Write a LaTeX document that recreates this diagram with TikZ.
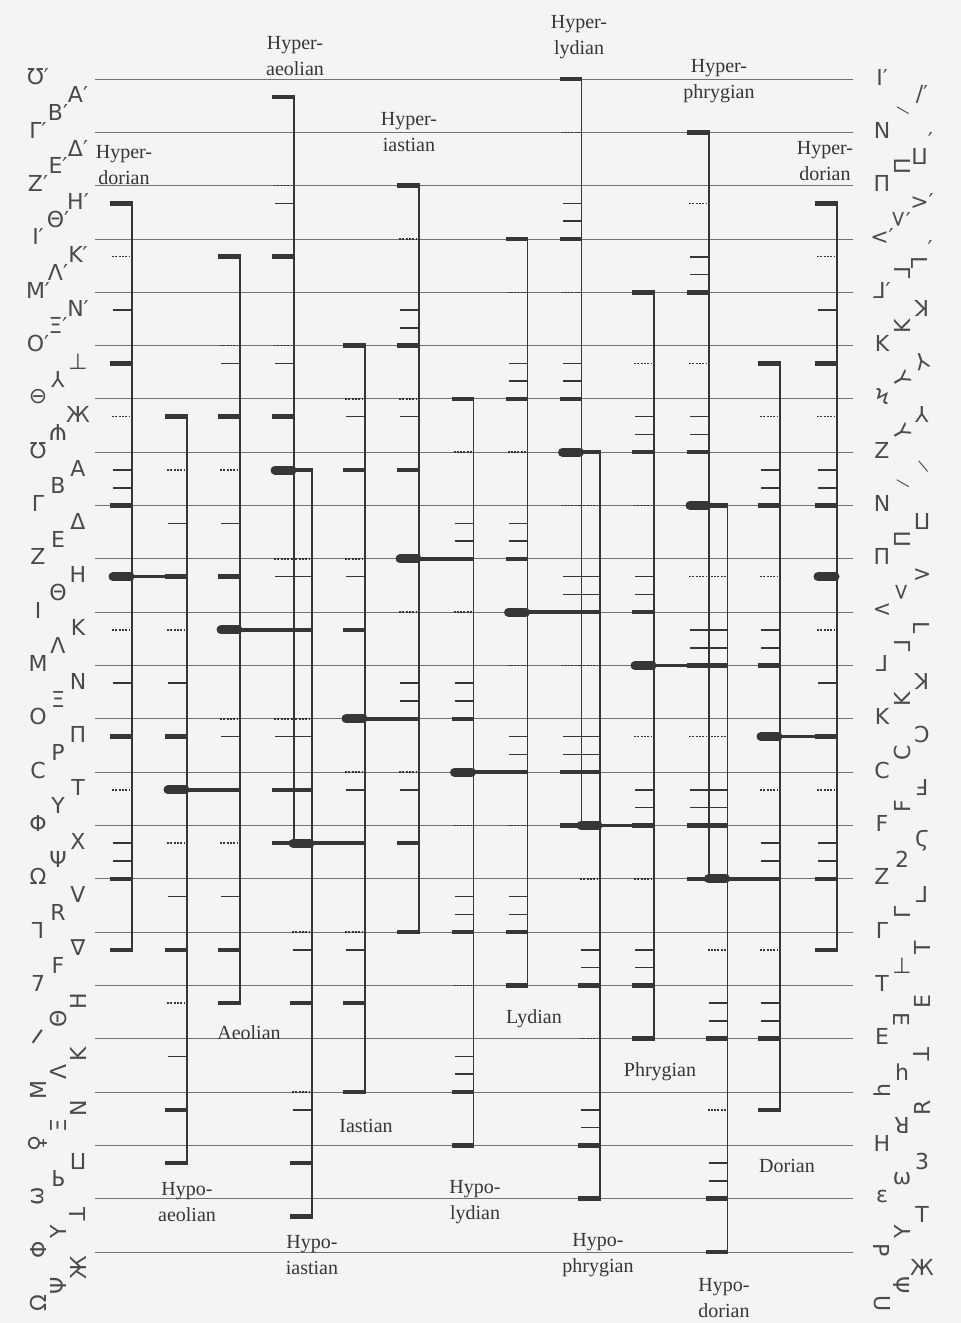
\documentclass[tikz,border=0pt]{standalone}
\usepackage{fontspec}
\setmainfont{Liberation Serif}
\newfontfamily\notefont{DejaVu Sans}
\usetikzlibrary{positioning}
\usepackage{xcolor}
\definecolor{ink}{HTML}{363636}
\definecolor{paper}{HTML}{F4F4F4}
% grid unit (one third of a staff interval) and pitch -> grid position
\def\gu{17.7727}
\def\Ptab{{0,1,3,6,7,9,10,12,15,16,18,19,21,22,24,27,28,30,31,33,36,37,39,40,42,43,45,48,49,51,52,54,57,58,60,61,63,64,66}}
\newcommand{\tonos}[3]{%
  \pgfmathtruncatemacro\ptop{\Ptab[#3]}
  \pgfmathtruncatemacro\ii{#3+24}\pgfmathtruncatemacro\pbot{\Ptab[\ii]}
  \pgfmathtruncatemacro\ii{#3+12}\pgfmathtruncatemacro\pmid{\Ptab[\ii]}
  \coordinate (#1-t) at (#2,{79+\gu*\ptop});
  \coordinate (#1-b) at (#2,{79+\gu*\pbot});
  \coordinate (#1-m) at (#2,{79+\gu*\pmid});
  \draw[stem] ([yshift=2pt]#1-t) -- ([yshift=-2pt]#1-b);
  \foreach \of in {0,5,10,17,22,24}{
    \pgfmathtruncatemacro\ii{#3+\of}\pgfmathtruncatemacro\pp{\Ptab[\ii]}
    \draw[fixbar] (#2-22,{79+\gu*\pp}) -- (#2+0.9,{79+\gu*\pp});
  }
  \foreach \of in {2,7,14,19}{
    \pgfmathtruncatemacro\ii{#3+\of}\pgfmathtruncatemacro\pp{\Ptab[\ii]}
    \draw[dotmark] (#2-20,{79+\gu*\pp}) -- (#2-2,{79+\gu*\pp});
  }
  \foreach \of in {5,10,17,22}{
    \pgfmathtruncatemacro\ii{#3+\of}\pgfmathtruncatemacro\pp{\Ptab[\ii]}
    \pgfmathtruncatemacro\rr{mod(\pp,3)}
    \ifnum\rr=0
      \draw[tick] (#2-19,{79+\gu*(\pp-1)}) -- (#2,{79+\gu*(\pp-1)});
      \draw[tick] (#2-19,{79+\gu*(\pp-2)}) -- (#2,{79+\gu*(\pp-2)});
    \else
      \draw[tick] (#2-19,{79+\gu*(\pp-3)}) -- (#2,{79+\gu*(\pp-3)});
    \fi
  }
  \draw[mesebar] ([xshift=-19pt]#1-m) -- ([xshift=-2pt]#1-m);
}
\newcommand{\meseto}[2]{\draw[meseline] (#1-m) -- (#1-m -| #2-t);}

\begin{document}
\begin{tikzpicture}[x=1pt,y=-1pt,
  stem/.style={line width=1.8pt,draw=ink},
  fixbar/.style={line width=4.5pt,draw=ink},
  mesebar/.style={line width=9pt,draw=ink,line cap=round},
  meseline/.style={line width=3.6pt,draw=ink},
  tick/.style={line width=1.6pt,draw=ink},
  dotmark/.style={line width=1.5pt,draw=ink,dash pattern=on 2pt off 1.3pt},
  staff/.style={line width=0.9pt,draw=ink!70},
  glyph/.style={font=\notefont\fontsize{22}{22}\selectfont,text=ink!90,inner sep=0pt},
  tonoslabel/.style={font=\fontsize{20}{26}\selectfont,text=ink,align=center,inner sep=0pt}]
  \fill[paper] (0,0) rectangle (961,1323);
  \useasboundingbox (0,0) rectangle (961,1323);

  % staff lines
  \foreach \k in {0,...,22}
    \draw[staff] (95,{79+3*\gu*\k}) -- (853,{79+3*\gu*\k});

  % the fifteen tonoi (Hyperdorian twice)
  \tonos{hdorL}{132}{4}
  \tonos{hypaeol}{187}{11}
  \tonos{aeol}{240}{6}
  \tonos{hypraeol}{294}{1}
  \tonos{hypiast}{312}{13}
  \tonos{iast}{365}{8}
  \tonos{hypriast}{419}{3}
  \tonos{hyplyd}{473.5}{10}
  \tonos{lyd}{527.5}{5}
  \tonos{hyprlyd}{581.5}{0}
  \tonos{hypphr}{600}{12}
  \tonos{phr}{654}{7}
  \tonos{hyprphr}{709}{2}
  \tonos{hypdor}{727.5}{14}
  \tonos{dor}{780}{9}
  \tonos{hdorR}{837}{4}

  % mese links
  \meseto{hdorL}{hypaeol}
  \meseto{hypaeol}{aeol}
  \meseto{aeol}{hypiast}
  \meseto{hypraeol}{hypiast}
  \meseto{hypiast}{iast}
  \meseto{iast}{hypriast}
  \meseto{hypriast}{hyplyd}
  \meseto{hyplyd}{lyd}
  \meseto{lyd}{hypphr}
  \meseto{hyprlyd}{hypphr}
  \meseto{hypphr}{phr}
  \meseto{phr}{hypdor}
  \meseto{hyprphr}{hypdor}
  \meseto{hypdor}{dor}
  \meseto{dor}{hdorR}

  % names of the tonoi
  \node[tonoslabel] (l-hdorL) at (124,165) {Hyper-\\dorian};
  \node[tonoslabel] (l-hypraeol) at (295,56) {Hyper-\\aeolian};
  \node[tonoslabel] (l-hypriast) at (409,132) {Hyper-\\iastian};
  \node[tonoslabel] (l-hyprlyd) at (579,37) {Hyper-\\lydian};
  \node[tonoslabel] (l-hyprphr) at (719,81) {Hyper-\\phrygian};
  \node[tonoslabel] (l-hdorR) at (825,161) {Hyper-\\dorian};
  \node[tonoslabel] (l-aeol) at (249,1033) {Aeolian};
  \node[tonoslabel] (l-iast) at (366,1126) {Iastian};
  \node[tonoslabel] (l-lyd) at (534,1019) {Lydian};
  \node[tonoslabel] (l-phr) at (660,1072) {Phrygian};
  \node[tonoslabel] (l-dor) at (787,1166) {Dorian};
  \node[tonoslabel] (l-hypaeol) at (187,1202) {Hypo-\\aeolian};
  \node[tonoslabel] (l-hypiast) at (312,1255) {Hypo-\\iastian};
  \node[tonoslabel] (l-hyplyd) at (475,1202) {Hypo-\\lydian};
  \node[tonoslabel] (l-hypphr) at (598,1255) {Hypo-\\phrygian};
  \node[tonoslabel] (l-hypdor) at (724,1298) {Hypo-\\dorian};

  % vocal signs (left)
  \foreach \p/\g in {0/Ʊ′,1/A′,2/B′,3/Γ′,4/Δ′,5/E′,6/Z′,7/H′,8/Θ′,9/I′,10/K′,11/Λ′,12/M′,13/N′,14/Ξ′,15/O′,
      16/⊥,17/\rotatebox{180}{Y},18/⊖,19/Ж,20/\rotatebox{180}{Ψ},21/Ʊ,
      22/A,23/B,24/Γ,25/Δ,26/E,27/Z,28/H,29/Θ,30/I,31/K,32/Λ,33/M,34/N,35/Ξ,36/O,
      37/Π,38/P,39/C,40/T,41/Y,42/Φ,43/X,44/Ψ,45/Ω,
      46/V,47/R,48/\reflectbox{Γ},49/∇,50/F,51/7,
      52/\rotatebox{90}{H},53/\rotatebox{90}{Θ},54/\rotatebox{-35}{I},55/\rotatebox{90}{K},56/\rotatebox{90}{Λ},57/\rotatebox{90}{M},
      58/\rotatebox{90}{N},59/\rotatebox{90}{Ξ},60/\rotatebox{90}{♀},61/\rotatebox{180}{Π},62/\reflectbox{\rotatebox{180}{P}},63/\rotatebox{90}{ω},
      64/\rotatebox{-90}{T},65/\rotatebox{90}{Y},66/\rotatebox{90}{Φ},67/\rotatebox{90}{Ж},68/\rotatebox{90}{Ψ},69/\rotatebox{90}{Ω}}{
    \pgfmathtruncatemacro\rr{mod(\p,3)}
    \pgfmathsetmacro\gx{38+20*mod(3-\rr,3)}
    \node[glyph] (voc\p) at (\gx,{79+\gu*\p-2}) {\g};
  }

  % instrumental signs (right)
  \foreach \p/\g in {0/I′,1/∕′,2/\rotatebox{-30}{\scalebox{0.7}{—}},3/N,
      4/\rotatebox{180}{Π}′,5/\rotatebox{90}{Π},6/Π,7/>′,8/\rotatebox{90}{<}′,9/<′,
      10/\rotatebox{-90}{L}′,11/\rotatebox{90}{\reflectbox{L}},12/\reflectbox{L}′,
      13/\rotatebox{180}{K},14/\rotatebox{90}{K},15/K,
      16/\rotatebox{200}{Y},17/\rotatebox{-60}{Y},18/Ϟ,19/\rotatebox{180}{Y},20/\rotatebox{-60}{Y},21/Z,
      22/\rotatebox{-50}{\scalebox{0.7}{—}},23/\rotatebox{-30}{\scalebox{0.7}{—}},24/N,
      25/\rotatebox{180}{Π},26/\rotatebox{90}{Π},27/Π,28/>,29/\rotatebox{90}{<},30/<,
      31/\rotatebox{-90}{L},32/\rotatebox{90}{\reflectbox{L}},33/\reflectbox{L},
      34/\rotatebox{180}{K},35/\rotatebox{90}{K},36/K,37/\reflectbox{C},38/\rotatebox{90}{C},39/C,
      40/\rotatebox{180}{F},41/\rotatebox{90}{F},42/F,43/Ϛ,44/2,45/Z,
      46/\rotatebox{180}{Γ},47/\rotatebox{90}{Γ},48/Γ,49/\rotatebox{90}{T},50/⊥,51/T,
      52/\rotatebox{90}{E},53/\rotatebox{-90}{E},54/E,55/\rotatebox{-90}{T},56/h,57/\rotatebox{90}{h},
      58/\rotatebox{90}{R},59/\rotatebox{180}{R},60/H,61/3,62/ω,63/ε,
      64/T,65/\rotatebox{90}{Y},66/\rotatebox{-90}{P},67/Ж,68/\rotatebox{-90}{Ψ},69/\rotatebox{-90}{U}}{
    \pgfmathtruncatemacro\rr{mod(\p,3)}
    \pgfmathsetmacro\gx{882+20*mod(3-\rr,3)}
    \node[glyph] (ins\p) at (\gx,{79+\gu*\p-2}) {\g};
  }
\end{tikzpicture}
\end{document}
